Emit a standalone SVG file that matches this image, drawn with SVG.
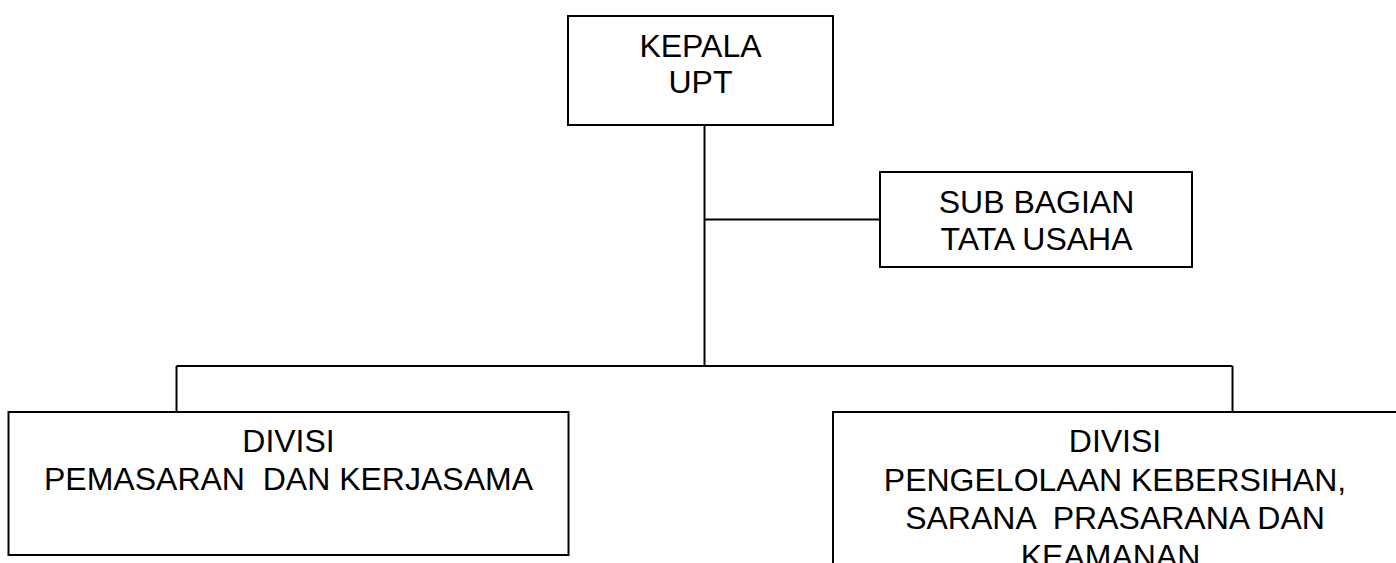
<svg xmlns="http://www.w3.org/2000/svg" width="1396" height="563" viewBox="0 0 1396 563">
<style>
.box{fill:#fff;stroke:#000;stroke-width:2}
.ln{stroke:#000;stroke-width:2;fill:none}
text{font-family:"Liberation Sans",Arial,sans-serif;font-size:32px;fill:#000;text-anchor:middle}
</style>
<rect width="1396" height="563" fill="#fff"/>
<g id="connectors">
<line class="ln" x1="704.5" y1="125" x2="704.5" y2="366"/>
<line class="ln" x1="704.5" y1="219.5" x2="880" y2="219.5"/>
<line class="ln" x1="176.5" y1="366" x2="1232.5" y2="366"/>
<line class="ln" x1="176.5" y1="366" x2="176.5" y2="414"/>
<line class="ln" x1="1232.5" y1="366" x2="1232.5" y2="412"/>
</g>
<g id="kepala">
<rect class="box" x="568" y="16" width="265" height="109"/>
<text x="700.5" y="57">KEPALA</text>
<text x="700.5" y="93">UPT</text>
</g>
<g id="subbagian">
<rect class="box" x="880" y="172" width="312" height="95"/>
<text x="1036.5" y="213">SUB BAGIAN</text>
<text x="1036.5" y="250">TATA USAHA</text>
</g>
<g id="divisi-pemasaran">
<rect class="box" x="8.5" y="412" width="560" height="143"/>
<text x="288.5" y="452" xml:space="preserve">DIVISI</text>
<text x="288.5" y="490" xml:space="preserve">PEMASARAN  DAN KERJASAMA</text>
</g>
<g id="divisi-pengelolaan">
<rect class="box" x="833" y="412" width="566" height="180"/>
<text x="1115" y="452" xml:space="preserve">DIVISI</text>
<text x="1115" y="491" xml:space="preserve">PENGELOLAAN KEBERSIHAN,</text>
<text x="1115" y="529" xml:space="preserve">SARANA  PRASARANA DAN</text>
<text x="1115" y="567" xml:space="preserve">KEAMANAN.</text>
</g>
</svg>
